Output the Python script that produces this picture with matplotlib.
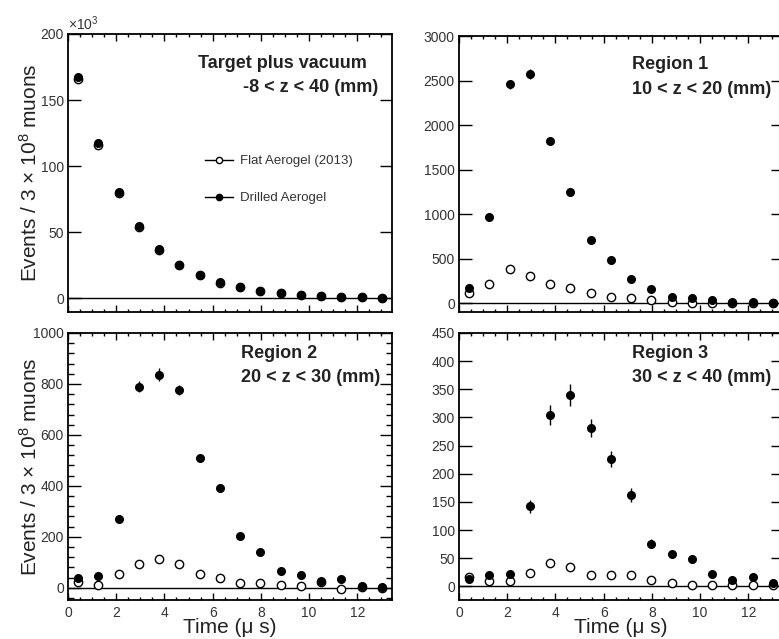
import matplotlib
matplotlib.use("Agg")
import matplotlib.pyplot as plt
from matplotlib.lines import Line2D
from matplotlib.ticker import MultipleLocator

plt.rcParams['font.family'] = ['Liberation Sans', 'DejaVu Sans']
plt.rcParams['mathtext.fontset'] = 'custom'
plt.rcParams['mathtext.rm'] = 'Liberation Sans'
plt.rcParams['mathtext.it'] = 'Liberation Sans:italic'

# bin centres (us)
time = [0.42, 1.26, 2.10, 2.94, 3.78, 4.62, 5.46, 6.30,
        7.14, 7.98, 8.82, 9.66, 10.50, 11.34, 12.18, 13.02]

# target plus vacuum, in units of 10^3
drilled_tot = [167.5, 117.5, 80.3, 54.7, 37.1, 25.4, 17.5, 11.9,
               8.3, 5.2, 3.8, 2.4, 1.7, 1.1, 0.6, 0.3]
flat_tot = [165.8, 115.8, 79.3, 54.2, 36.8, 25.2, 17.3, 11.8,
            8.1, 5.1, 3.6, 2.3, 1.6, 1.0, 0.6, 0.3]

# region 1
drilled_r1 = [169, 971, 2456, 2569, 1819, 1245, 705, 480,
              270, 161, 73, 60, 38, 15, 9, 6]
err_d_r1 = [15, 35, 55, 55, 45, 40, 30, 25, 18, 14, 10, 9, 7, 5, 4, 3]
flat_r1 = [112, 214, 383, 308, 214, 173, 109, 65,
           55, 30, 12, 6, 5, 4, 3, 2]
err_f_r1 = [12, 16, 22, 19, 16, 14, 11, 9, 8, 6, 4, 3, 3, 2, 2, 2]

# region 2
drilled_r2 = [40, 47, 271, 790, 837, 776, 510, 392,
              205, 141, 67, 52, 27, 33, 8, 3]
err_d_r2 = [6, 7, 13, 22, 24, 21, 17, 15, 11, 9, 6, 6, 4, 5, 3, 2]
flat_r2 = [24, 10, 56, 92, 111, 92, 54, 37,
           20, 17, 10, 8, 22, -3, 4, 1]
err_f_r2 = [4, 3, 6, 8, 9, 8, 6, 5, 4, 4, 3, 3, 4, 2, 2, 1]

# region 3
drilled_r3 = [13, 19.5, 22, 142, 305, 340, 282, 226,
              162, 76, 58, 48, 22, 12, 16, 6]
err_d_r3 = [3, 4, 4, 11, 18, 19, 16, 14, 12, 8, 7, 6, 4, 3, 4, 2]
flat_r3 = [16, 10, 10, 24, 41, 35, 20, 19.5,
           19.5, 12, 7, 3.5, 3, 3.5, 3.5, 2]
err_f_r3 = [2, 2, 2, 3, 4, 3, 2, 2, 2, 2, 1.5, 1, 1, 1, 1, 1]

W, H = 779, 639
fig = plt.figure(figsize=(W / 100, H / 100), dpi=100)


def box(x0, y0, x1, y1):
    return [x0 / W, 1 - y1 / H, (x1 - x0) / W, (y1 - y0) / H]


ax_tl = fig.add_axes(box(68, 34, 392, 312))
ax_tr = fig.add_axes(box(459, 36, 783, 312))
ax_bl = fig.add_axes(box(68, 333, 392, 600))
ax_br = fig.add_axes(box(459, 333, 783, 600))

panels = [
    (ax_tl, drilled_tot, None, flat_tot, None, (-10.5, 200), 50, None),
    (ax_tr, drilled_r1, err_d_r1, flat_r1, err_f_r1, (-100, 3000), 500, None),
    (ax_bl, drilled_r2, err_d_r2, flat_r2, err_f_r2, (-48, 1000), 200, 40),
    (ax_br, drilled_r3, err_d_r3, flat_r3, err_f_r3, (-24, 450), 50, None),
]

for ax, dv, de, fv, fe, ylim, ymaj, ymin in panels:
    ax.axhline(0, color='black', lw=1.0, zorder=1)
    ax.errorbar(time, fv, yerr=fe, fmt='o', ms=6, mfc='white', mec='black',
                mew=1.0, ecolor='black', elinewidth=1.0, capsize=0, zorder=2)
    ax.errorbar(time, dv, yerr=de, fmt='o', ms=5.5, mfc='black', mec='black',
                ecolor='black', elinewidth=1.0, capsize=0, zorder=3)
    ax.set_xlim(0, 13.44)
    ax.set_ylim(*ylim)
    ax.xaxis.set_major_locator(MultipleLocator(2))
    ax.xaxis.set_minor_locator(MultipleLocator(0.5))
    ax.yaxis.set_major_locator(MultipleLocator(ymaj))
    if ymin:
        ax.yaxis.set_minor_locator(MultipleLocator(ymin))
    else:
        ax.yaxis.set_minor_locator(plt.NullLocator())
    ax.tick_params(which='both', direction='in', top=True, right=True,
                   labelsize=10, width=1.0, color='black', labelcolor='#333333')
    ax.tick_params(axis='x', which='major', length=5, pad=4)
    ax.tick_params(axis='x', which='minor', length=2.5)
    ax.tick_params(axis='y', which='major', length=9, pad=3)
    ax.tick_params(axis='y', which='minor', length=4.5)
    for s in ax.spines.values():
        s.set_linewidth(1.3)

for ax in (ax_tl, ax_tr):
    ax.tick_params(axis='x', labelbottom=False)

ylab = 'Events / 3 $\\times$ 10$^{8}$ muons'
for ax in (ax_tl, ax_bl):
    ax.set_ylabel(ylab, fontsize=15, color='#222222')
    ax.yaxis.set_label_coords(-0.083, 0.5)
for ax in (ax_bl, ax_br):
    ax.set_xlabel('Time (μ s)', fontsize=15, color='#222222', labelpad=-1)

ax_tl.text(0.0, 1.005, '×10$^{3}$', transform=ax_tl.transAxes,
           fontsize=10, ha='left', va='bottom', color='#333333')

bold = dict(fontsize=13, fontweight='bold', color='#222222', va='center')
ax_tl.text(0.40, 0.895, 'Target plus vacuum', transform=ax_tl.transAxes, **bold)
ax_tl.text(0.957, 0.806, '-8 < z < 40 (mm)', transform=ax_tl.transAxes,
           ha='right', **bold)
ax_tr.text(0.535, 0.895, 'Region 1', transform=ax_tr.transAxes, **bold)
ax_tr.text(0.535, 0.806, '10 < z < 20 (mm)', transform=ax_tr.transAxes, **bold)
ax_bl.text(0.535, 0.925, 'Region 2', transform=ax_bl.transAxes, **bold)
ax_bl.text(0.535, 0.835, '20 < z < 30 (mm)', transform=ax_bl.transAxes, **bold)
ax_br.text(0.535, 0.925, 'Region 3', transform=ax_br.transAxes, **bold)
ax_br.text(0.535, 0.835, '30 < z < 40 (mm)', transform=ax_br.transAxes, **bold)

handles = [
    Line2D([], [], color='black', lw=1.0, marker='o', ms=4.5, mfc='white', mec='black'),
    Line2D([], [], color='black', lw=1.0, marker='o', ms=4.5, mfc='black', mec='black'),
]
ax_tl.legend(handles, ['Flat Aerogel (2013)', 'Drilled Aerogel'],
             loc='upper left', bbox_to_anchor=(0.423, 0.565), frameon=False,
             fontsize=9.5, handlelength=2.15, handletextpad=0.5,
             borderpad=0, borderaxespad=0, labelspacing=1.9,
             labelcolor='#333333')

fig.savefig('out.png', dpi=100)
